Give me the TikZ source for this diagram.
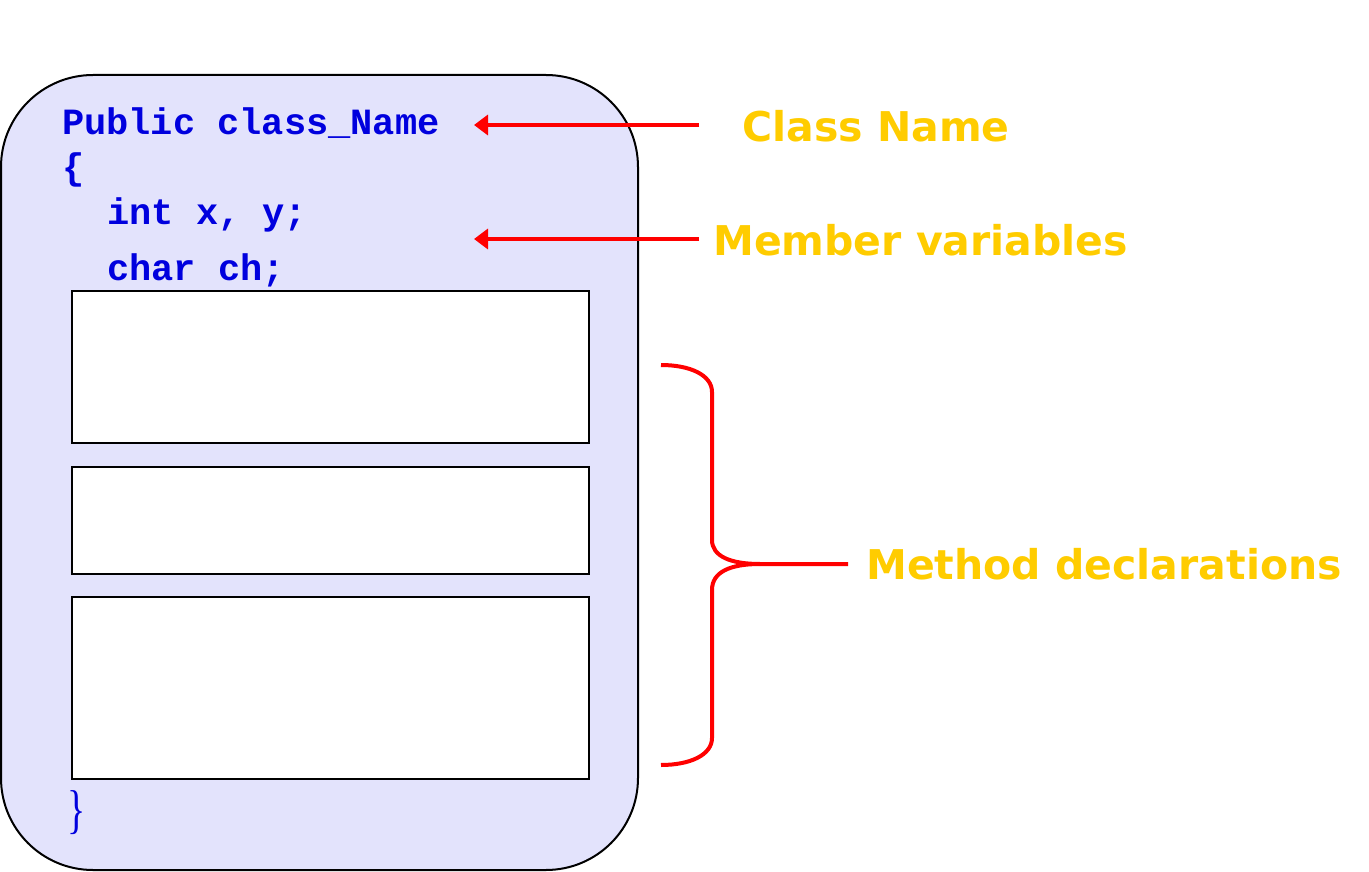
\documentclass[tikz,border=0pt]{standalone}
\usepackage{fontspec}
\usepackage{graphicx}
\setmainfont{Liberation Serif}
\newfontfamily\codefont{Liberation Mono}
\newfontfamily\labelfont{DejaVu Sans}
\usetikzlibrary{arrows.meta}
\definecolor{boxfill}{RGB}{227,227,252}
\definecolor{codeblue}{RGB}{0,0,222}
\definecolor{labelyellow}{RGB}{255,204,0}
\definecolor{arrred}{RGB}{255,0,0}
\tikzset{
  codetext/.style={anchor=base west, inner sep=0pt, text=codeblue, font=\codefont\bfseries\fontsize{37}{40}\selectfont},
  labeltext/.style={anchor=west, inner sep=0pt, text=labelyellow, font=\labelfont\bfseries\fontsize{41}{48}\selectfont},
  methodbox/.style={draw=black, line width=2pt, fill=white},
  redarrow/.style={draw=arrred, line width=4pt, -{Triangle[length=14pt,width=20pt]}},
  redbrace/.style={draw=arrred, line width=4pt}
}
\begin{document}
\begin{tikzpicture}[x=1pt,y=-1pt]
\useasboundingbox (0,0) rectangle (1369,872);
% class container
\draw[line width=2pt, fill=boxfill, rounded corners=92pt] (1,75) rectangle (638,870);
% method boxes
\node[methodbox, minimum width=517pt, minimum height=152pt, anchor=north west] (m1) at (71,290) {};
\node[methodbox, minimum width=517pt, minimum height=107pt, anchor=north west] (m2) at (71,466) {};
\node[methodbox, minimum width=517pt, minimum height=182pt, anchor=north west] (m3) at (71,596) {};
% code
\node[codetext] (l1) at (62,135) {Public class\_Name};
\node[codetext] (l2) at (62,180) {\{};
\node[codetext] (l3) at (107,224) {int x, y;};
\node[codetext] (l4) at (107,280) {char ch;};
\node[inner sep=0pt, text=codeblue, font=\fontsize{38}{42}\selectfont] (l5) at (77,813) {\scalebox{1.0}[1.4]{\}}};
% labels
\node[labeltext] (cn) at (742,126) {Class Name};
\node[labeltext] (mv) at (713,240) {Member variables};
\node[labeltext] (md) at (866,564) {Method declarations};
% arrows
\coordinate (a1s) at (699,125);
\coordinate (a1e) at (474,125);
\coordinate (a2s) at (699,239);
\coordinate (a2e) at (474,239);
\draw[redarrow] (a1s) -- (a1e);
\draw[redarrow] (a2s) -- (a2e);
% brace
\coordinate (bt) at (661,365);
\coordinate (bb) at (661,765);
\coordinate (bm) at (760,564);
\coordinate (be) at (848,564);
\draw[redbrace] (bt) .. controls (690,365) and (712,375) .. (712,392)
  -- (712,540) .. controls (712,556) and (730,564) .. (bm) -- (be);
\draw[redbrace] (bb) .. controls (690,765) and (712,755) .. (712,738)
  -- (712,590) .. controls (712,572) and (730,564) .. (bm);
\end{tikzpicture}
\end{document}
